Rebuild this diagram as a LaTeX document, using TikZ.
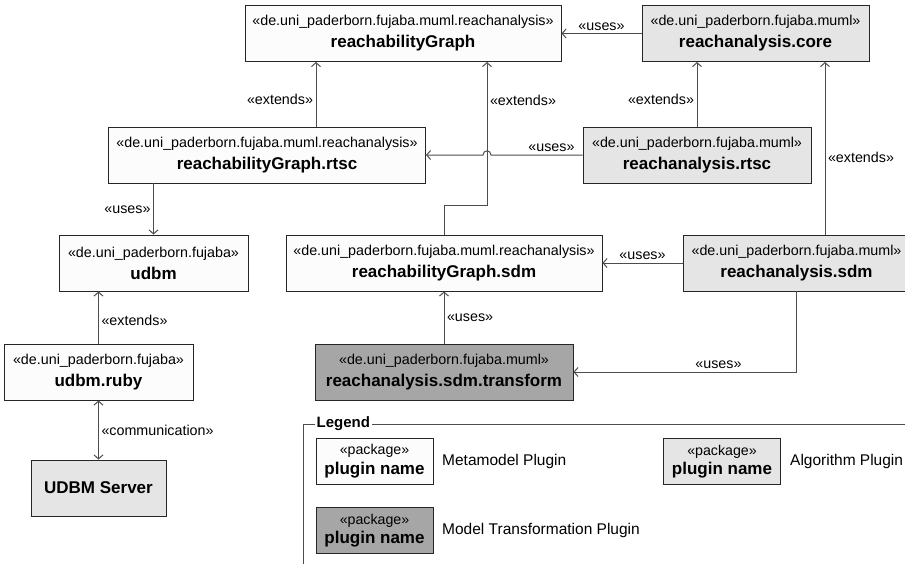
\documentclass[tikz,border=0pt]{standalone}
\usepackage{fontspec}
\setmainfont{Liberation Sans}
\usetikzlibrary{arrows.meta,calc,positioning}

\definecolor{metafill}{HTML}{FCFCFC}
\definecolor{algfill}{HTML}{E5E5E5}
\definecolor{transfill}{HTML}{A6A6A6}
\definecolor{edgecol}{HTML}{4D4D4D}

% stereotype line and bold package name
\newcommand{\stereo}[1]{«#1»}
\newcommand{\pname}[1]{{\fontsize{17}{22}\selectfont\bfseries #1}}

\begin{document}
\begin{tikzpicture}[x=1pt,y=-1pt,
    >={Straight Barb[length=4pt,width=9pt]},
    pkg/.style={draw=black!85,line width=0.9pt,align=center,inner sep=0pt,
      minimum height=56pt,font=\fontsize{14.3}{22}\selectfont},
    meta/.style={pkg,fill=metafill},
    alg/.style={pkg,fill=algfill},
    trans/.style={pkg,fill=transfill},
    legbox/.style={pkg,minimum width=117pt,minimum height=46pt,
      font=\fontsize{14.2}{19.5}\selectfont},
    dep/.style={draw=edgecol,line width=1pt},
    lbl/.style={font=\fontsize{14.3}{17}\selectfont,inner sep=2.5pt},
    legtext/.style={font=\fontsize{15.5}{18}\selectfont,anchor=west,inner sep=0pt}]
  \useasboundingbox (0,0) rectangle (905,563);

  % packages
  \node[meta,minimum width=316pt] (graph) at (403,33.5)
    {\stereo{de.uni\_paderborn.fujaba.muml.reachanalysis}\\\pname{reachabilityGraph}};
  \node[alg,minimum width=227pt] (core) at (755.5,33.5)
    {\stereo{de.uni\_paderborn.fujaba.muml}\\\pname{reachanalysis.core}};
  \node[meta,minimum width=317pt] (graphRtsc) at (267,155)
    {\stereo{de.uni\_paderborn.fujaba.muml.reachanalysis}\\\pname{reachabilityGraph.rtsc}};
  \node[alg,minimum width=228pt] (algRtsc) at (697,155)
    {\stereo{de.uni\_paderborn.fujaba.muml}\\\pname{reachanalysis.rtsc}};
  \node[meta,minimum width=189pt] (udbm) at (153.5,263)
    {\stereo{de.uni\_paderborn.fujaba}\\\pname{udbm}};
  \node[meta,minimum width=316pt] (graphSdm) at (444,263)
    {\stereo{de.uni\_paderborn.fujaba.muml.reachanalysis}\\\pname{reachabilityGraph.sdm}};
  \node[alg,minimum width=227pt] (algSdm) at (796.5,263)
    {\stereo{de.uni\_paderborn.fujaba.muml}\\\pname{reachanalysis.sdm}};
  \node[trans,minimum width=258pt] (transform) at (444,372)
    {\stereo{de.uni\_paderborn.fujaba.muml}\\\pname{reachanalysis.sdm.transform}};
  \node[meta,minimum width=189pt] (ruby) at (98.5,372)
    {\stereo{de.uni\_paderborn.fujaba}\\\pname{udbm.ruby}};
  \node[alg,minimum width=135pt] (server) at (98.5,488) {\pname{UDBM Server}};

  % dependencies
  \draw[dep,->] (core.west) -- (graph.east) node[lbl,midway,above]{«uses»};
  \draw[dep,->] ([xshift=49pt]graphRtsc.north) -- ([xshift=49pt]graphRtsc.north |- graph.south)
    node[lbl,pos=0.42,left]{«extends»};
  \coordinate (sdmBend) at (487,205);
  \draw[dep,->] (graphSdm.north) |- (sdmBend) -- (sdmBend |- graph.south)
    node[lbl,pos=0.73,right]{«extends»};
  \coordinate (hop) at (sdmBend |- algRtsc.west);
  \draw[dep,->] (algRtsc.west) -- node[lbl,pos=0.34,above]{«uses»} ([xshift=4pt]hop)
    .. controls ([xshift=4pt,yshift=5.5pt]hop) and ([xshift=-4pt,yshift=5.5pt]hop) .. ([xshift=-4pt]hop)
    -- (graphRtsc.east);
  \draw[dep,->] (algRtsc.north) -- (algRtsc.north |- core.south)
    node[lbl,pos=0.42,left]{«extends»};
  \draw[dep,->] ([xshift=28.5pt]algSdm.north) -- ([xshift=28.5pt]algSdm.north |- core.south)
    node[lbl,pos=0.445,right]{«extends»};
  \draw[dep,->] (graphRtsc.south -| udbm.north) -- (udbm.north)
    node[lbl,pos=0.52,left]{«uses»};
  \draw[dep,->] (ruby.north) -- (ruby.north |- udbm.south)
    node[lbl,pos=0.45,right]{«extends»};
  \draw[dep,<->] (ruby.south) -- (ruby.south |- server.north)
    node[lbl,midway,right]{«communication»};
  \draw[dep,->] (algSdm.west) -- (graphSdm.east) node[lbl,midway,above]{«uses»};
  \draw[dep,->] (transform.north) -- (graphSdm.south)
    node[lbl,pos=0.49,right]{«uses»};
  \draw[dep,->] (algSdm.south) |- (transform.east)
    node[lbl,pos=0.675,above]{«uses»};

  % legend
  \draw[dep,line width=0.8pt] (303,566) -- (303,424) -- (910,424);
  \node[fill=white,inner sep=1.5pt,anchor=west,font=\fontsize{15}{18}\selectfont\bfseries]
    (legend) at (315,424) {Legend};
  \node[legbox,fill=metafill] (legMeta) at (374.5,461) {«package»\\\pname{plugin name}};
  \node[legbox,fill=algfill] (legAlg) at (722,461.5) {«package»\\\pname{plugin name}};
  \node[legbox,fill=transfill] (legTrans) at (374.5,530.5) {«package»\\\pname{plugin name}};
  \node[legtext] (metaTxt) at (442,461) {Metamodel Plugin};
  \node[legtext] (algTxt) at (790,461.5) {Algorithm Plugin};
  \node[legtext] (transTxt) at (442,530.5) {Model Transformation Plugin};
\end{tikzpicture}
\end{document}
